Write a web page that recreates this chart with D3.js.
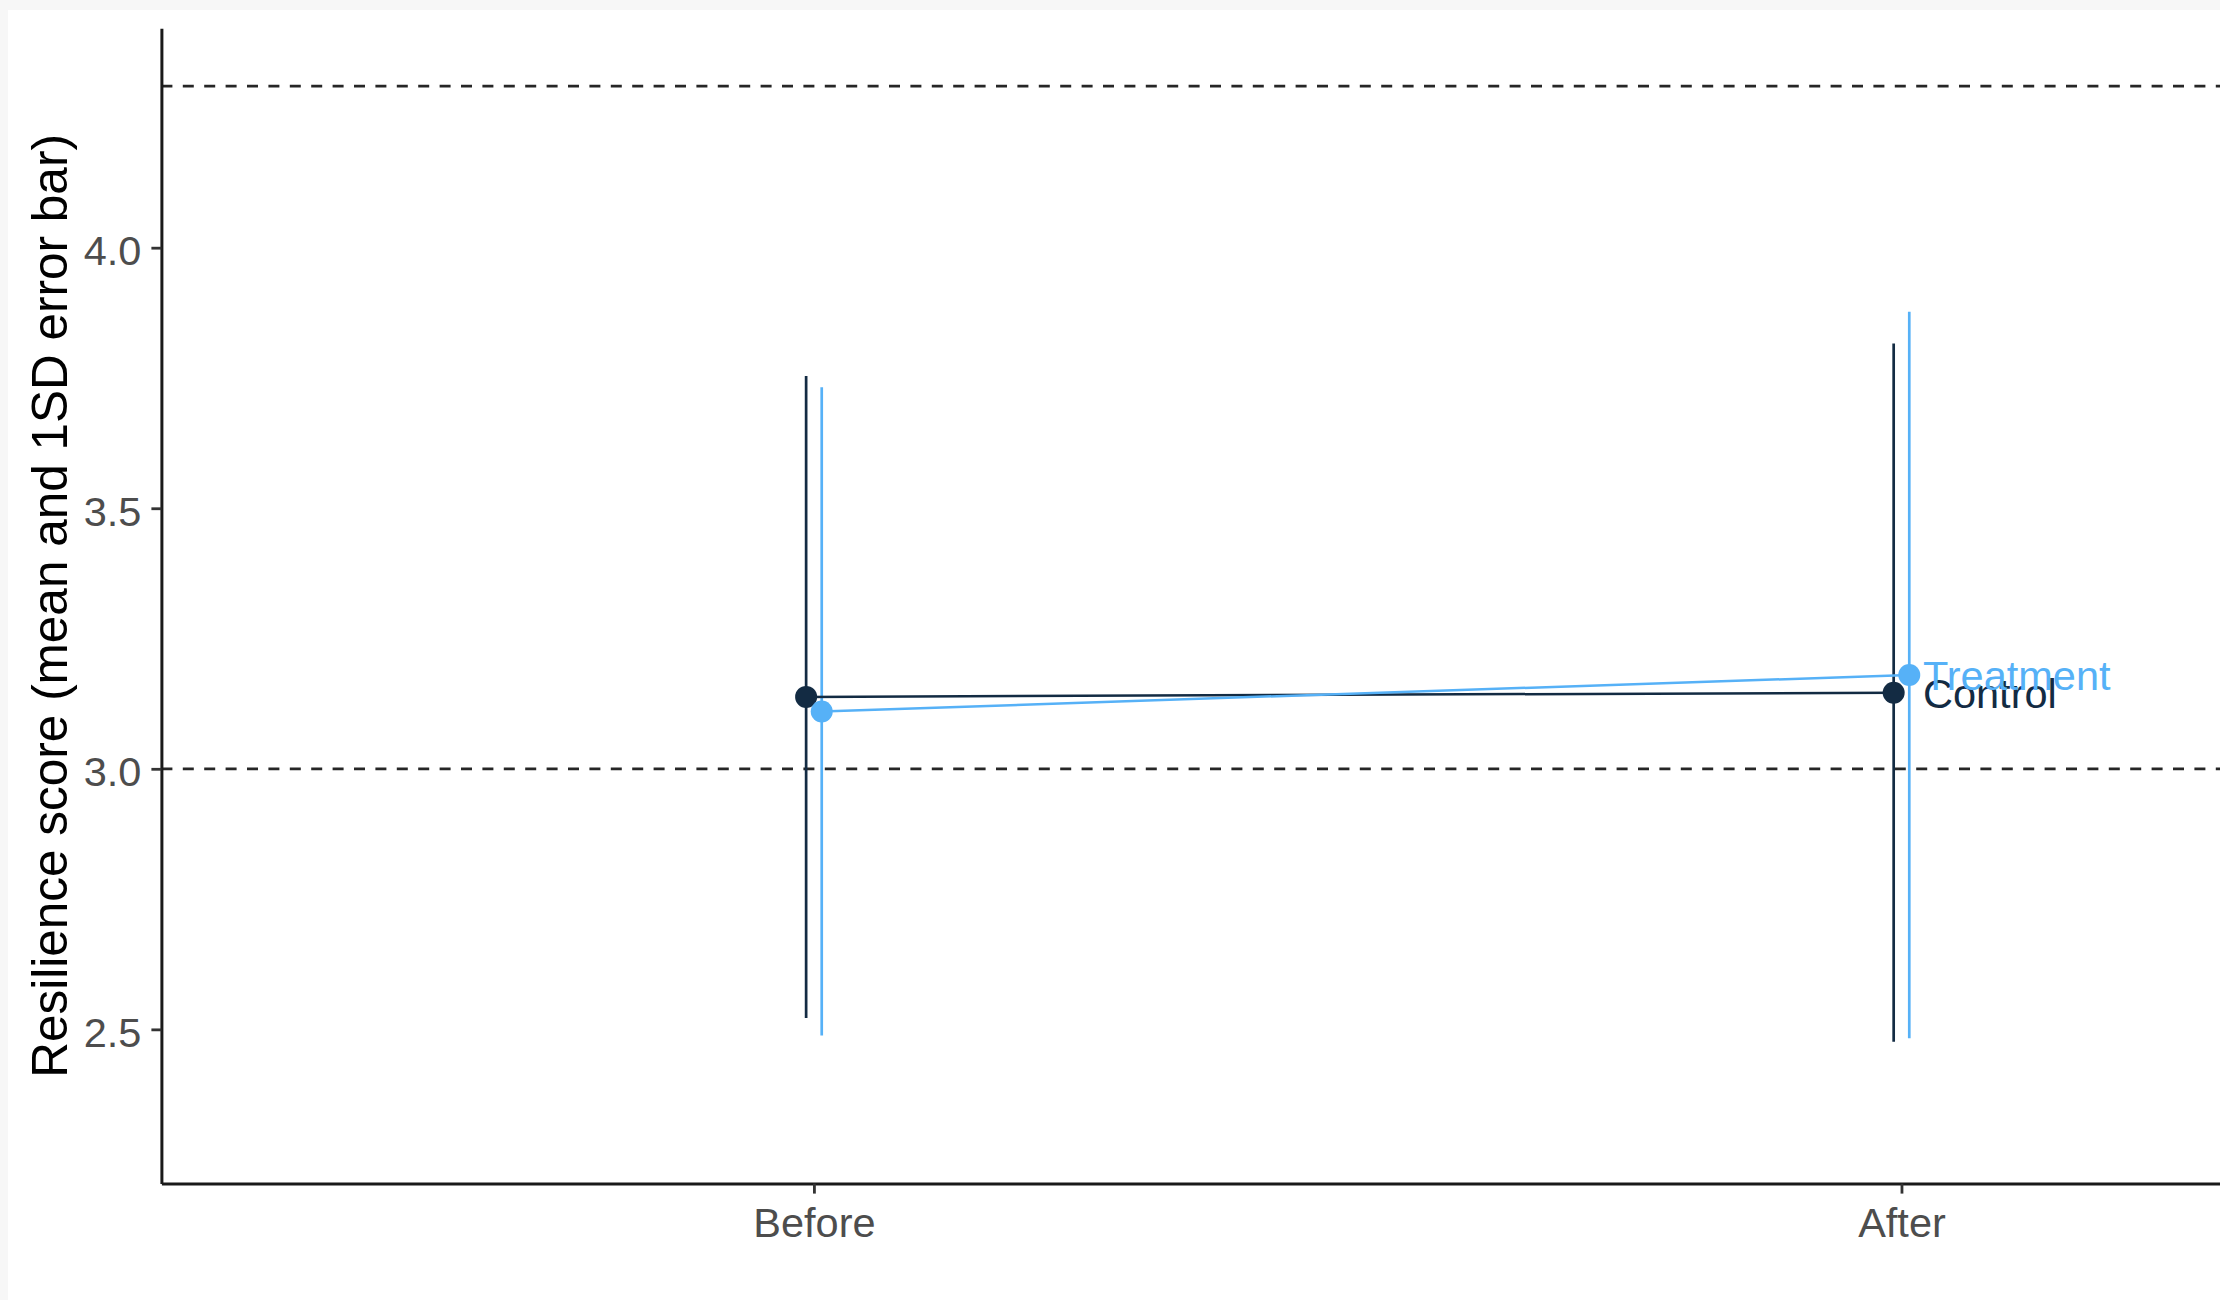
<!DOCTYPE html>
<html>
<head>
<meta charset="utf-8">
<script src="https://cdn.jsdelivr.net/npm/d3@7/dist/d3.min.js"></script>
<style>
  html, body { margin: 0; padding: 0; background: #f7f7f7; }
  svg { display: block; }
  text { font-family: "Liberation Sans", Arial, sans-serif; }
</style>
</head>
<body>
<svg id="chart" width="2220" height="1300"></svg>
<script>
// Time points on the x axis and the two groups compared
const timepoints = ["Before", "After"];
const groups = ["Control", "Treatment"];

// Group means and standard deviations at each time point
const controlMean = [3.138, 3.146];
const controlSD = [0.616, 0.670];
const treatmentMean = [3.110, 3.180];
const treatmentSD = [0.622, 0.697];

// Horizontal reference lines
const referenceLines = [3.0, 4.31];

// Y axis ticks and limits
const yTicks = [2.5, 3.0, 3.5, 4.0];
const yLimits = [2.204, 4.421];

const groupColor = { Control: "#132B43", Treatment: "#56B1F7" };
const dodge = { Control: -7.8, Treatment: 7.8 };

const series = [
  { group: "Control", mean: controlMean, sd: controlSD },
  { group: "Treatment", mean: treatmentMean, sd: treatmentSD }
].map(s => ({
  group: s.group,
  values: timepoints.map((t, i) => ({
    time: t, mean: s.mean[i], lo: s.mean[i] - s.sd[i], hi: s.mean[i] + s.sd[i]
  }))
}));

const svg = d3.select("#chart");

// white plotting canvas
svg.append("rect").attr("x", 8).attr("y", 10)
  .attr("width", 2212).attr("height", 1290).attr("fill", "#ffffff");

const panel = { left: 161.4, top: 28.3, bottom: 1183.6, right: 2554 };

const x = d3.scalePoint().domain(timepoints)
  .range([panel.left, panel.right]).padding(0.6);
const y = d3.scaleLinear().domain(yLimits).range([panel.bottom, panel.top]);

const g = svg.append("g");

// dashed reference lines
g.selectAll("line.ref").data(referenceLines).join("line")
  .attr("class", "ref")
  .attr("x1", panel.left).attr("x2", 2220)
  .attr("y1", d => y(d)).attr("y2", d => y(d))
  .attr("stroke", "#262626").attr("stroke-width", 2.8)
  .attr("stroke-dasharray", "11,10.4");

// error bars (mean ± 1 SD)
series.forEach(s => {
  g.selectAll(null).data(s.values).join("line")
    .attr("x1", d => x(d.time) + dodge[s.group])
    .attr("x2", d => x(d.time) + dodge[s.group])
    .attr("y1", d => y(d.lo)).attr("y2", d => y(d.hi))
    .attr("stroke", groupColor[s.group]).attr("stroke-width", 2.7);
});

// lines joining the means
const line = d3.line()
  .x(d => x(d.time))
  .y(d => y(d.mean));
series.forEach(s => {
  g.append("path")
    .datum(s.values)
    .attr("d", d3.line().x(d => x(d.time) + dodge[s.group]).y(d => y(d.mean)))
    .attr("fill", "none")
    .attr("stroke", groupColor[s.group]).attr("stroke-width", 2.5);
});

// mean points
series.forEach(s => {
  g.selectAll(null).data(s.values).join("circle")
    .attr("cx", d => x(d.time) + dodge[s.group])
    .attr("cy", d => y(d.mean))
    .attr("r", 11)
    .attr("fill", groupColor[s.group]);
});

// group labels at the last time point
series.forEach(s => {
  const last = s.values[s.values.length - 1];
  g.append("text")
    .attr("x", x(last.time) + 21.5)
    .attr("y", y(last.mean))
    .attr("dy", "0.37em")
    .attr("font-size", 41.5)
    .attr("fill", groupColor[s.group])
    .text(s.group);
});

// axes
const yAxis = svg.append("g")
  .attr("transform", `translate(${panel.left},0)`)
  .call(d3.axisLeft(y).tickValues(yTicks).tickFormat(d3.format(".1f"))
    .tickSize(10).tickSizeOuter(0).tickPadding(10));
yAxis.select(".domain").attr("stroke", "#1a1a1a").attr("stroke-width", 3);
yAxis.selectAll(".tick line").attr("stroke", "#333333").attr("stroke-width", 2.8);
yAxis.selectAll(".tick text")
  .attr("font-size", 41.5).attr("fill", "#4D4D4D").attr("dy", "0.41em")
  .style("font-family", "'Liberation Sans', Arial, sans-serif");

const xAxis = svg.append("g")
  .attr("transform", `translate(0,${panel.bottom})`)
  .call(d3.axisBottom(x).tickSize(10).tickSizeOuter(0).tickPadding(13.6));
xAxis.select(".domain").attr("stroke", "#1a1a1a").attr("stroke-width", 3);
xAxis.selectAll(".tick line").attr("stroke", "#333333").attr("stroke-width", 2.8);
xAxis.selectAll(".tick text")
  .attr("font-size", 41.5).attr("fill", "#4D4D4D")
  .style("font-family", "'Liberation Sans', Arial, sans-serif");

// y axis title
svg.append("text")
  .attr("transform", `translate(67,${(panel.top + panel.bottom) / 2}) rotate(-90)`)
  .attr("text-anchor", "middle")
  .attr("font-size", 49.5)
  .attr("fill", "#000000")
  .text("Resilience score (mean and 1SD error bar)");
</script>
</body>
</html>
